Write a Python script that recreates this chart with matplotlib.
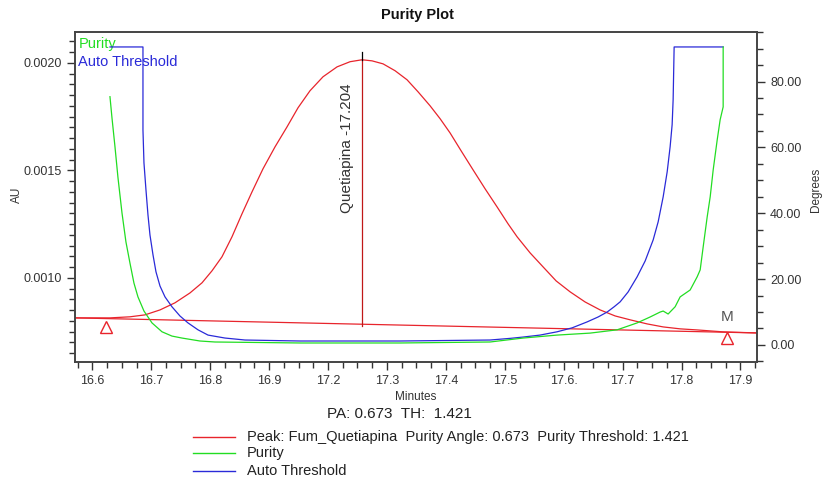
import matplotlib.pyplot as plt
from matplotlib.ticker import MultipleLocator

plt.rcParams['font.family'] = ['Liberation Sans', 'DejaVu Sans']

# x axis: nominal minute positions and the tick labels as printed in the picture
tick_pos = [16.6, 16.7, 16.8, 16.9, 17.0, 17.1, 17.2, 17.3, 17.4, 17.5, 17.6, 17.7]
tick_lbl = ["16.6", "16.7", "16.8", "16.9", "17.2", "17.3",
            "17.4", "17.5", "17.6.", "17.7", "17.8", "17.9"]

# chromatogram (AU)
peak_t = [16.5705, 16.6299, 16.6638, 16.6893, 16.7148, 16.7402, 16.7657, 16.7861,
          16.8031, 16.8200, 16.8370, 16.8540, 16.8710, 16.8896, 16.9100, 16.9304,
          16.9491, 16.9694, 16.9915, 17.0153, 17.0374, 17.0577, 17.0747, 17.0934,
          17.1138, 17.1341, 17.1528, 17.1732, 17.1902, 17.2071, 17.2258, 17.2462,
          17.2666, 17.2869, 17.3056, 17.3209, 17.3430, 17.3650, 17.3871, 17.4109,
          17.4363, 17.4618, 17.4873, 17.5127, 17.5416, 17.5688, 17.5976, 17.6265,
          17.6706, 17.7284]
peak_au = [0.000814, 0.000814, 0.000819, 0.000828, 0.000851, 0.000884, 0.000930, 0.000977,
           0.001033, 0.001098, 0.001191, 0.001298, 0.001400, 0.001507, 0.001609, 0.001702,
           0.001791, 0.001870, 0.001935, 0.001981, 0.002005, 0.002014, 0.002009, 0.001995,
           0.001963, 0.001921, 0.001865, 0.001800, 0.001740, 0.001674, 0.001591, 0.001502,
           0.001414, 0.001330, 0.001251, 0.001191, 0.001116, 0.001051, 0.000986, 0.000935,
           0.000888, 0.000851, 0.000823, 0.000805, 0.000786, 0.000772, 0.000763, 0.000758,
           0.000749, 0.000744]

base_t = [16.5705, 17.7284]
base_au = [0.000814, 0.000744]

apex_t = 17.0577
apex_au = 0.002014
apex_base = 0.000777
apex_top = 0.002051

start_mark = (16.6233, 0.000772)
end_mark = (17.6773, 0.000721)

# auto threshold (degrees)
thr_t = [16.6299, 16.6859, 16.6859, 16.6876, 16.6910, 16.6944, 16.6978, 16.7029, 16.7080,
         16.7148, 16.7233, 16.7351, 16.7487, 16.7623, 16.7793, 16.7963, 16.8251, 16.8591,
         16.9525, 17.1222, 17.2750, 17.3090, 17.3311, 17.3599, 17.3888, 17.4143, 17.4397,
         17.4584, 17.4737, 17.4856, 17.4958, 17.5093, 17.5246, 17.5382, 17.5518, 17.5603,
         17.5688, 17.5756, 17.5806, 17.5840, 17.5857, 17.5874, 17.6706]
thr_deg = [90.5, 90.5, 65.3, 55.3, 47.1, 39.5, 33.4, 27.4, 22.2,
           17.9, 14.6, 11.6, 8.8, 6.7, 4.6, 3.0, 2.1, 1.5,
           1.2, 1.2, 1.5, 2.0, 2.4, 3.0, 4.0, 5.2, 7.0,
           8.5, 10.0, 11.6, 13.1, 16.1, 20.7, 25.5, 31.9, 37.4,
           45.0, 52.6, 60.2, 66.9, 74.5, 90.5, 90.5]

# purity (degrees)
pur_t = [16.6299, 16.6333, 16.6384, 16.6435, 16.6503, 16.6570, 16.6638, 16.6706, 16.6774,
         16.6876, 16.7012, 16.7182, 16.7351, 16.7521, 16.7827, 16.8081, 16.9525, 17.1222,
         17.2750, 17.3311, 17.3888, 17.4448, 17.4907, 17.5246, 17.5467, 17.5637, 17.5688,
         17.5772, 17.5891, 17.5976, 17.6146, 17.6265, 17.6316, 17.6367, 17.6435, 17.6486,
         17.6537, 17.6605, 17.6655, 17.6706, 17.6706]
pur_deg = [75.4, 69.0, 60.2, 50.8, 40.1, 31.3, 24.9, 18.8, 14.6,
           10.3, 6.7, 4.0, 2.7, 2.1, 1.2, 0.9, 0.6, 0.6,
           0.9, 2.1, 3.0, 3.6, 4.6, 6.7, 8.5, 10.0, 10.3,
           9.4, 11.6, 14.6, 16.7, 20.7, 22.8, 29.8, 38.9, 45.0,
           53.2, 62.3, 68.4, 72.3, 90.5]

RED = "#e8242c"
GREEN = "#22dd22"
BLUE = "#2a2ad8"
TXT = "#333333"

fig = plt.figure(figsize=(8.22, 4.82), dpi=100)
ax = fig.add_axes([0.0912, 0.249, 0.8297, 0.685])
ax2 = ax.twinx()

ax.plot(peak_t, peak_au, color=RED, lw=0.9)
ax.plot(base_t, base_au, color=RED, lw=0.9)
ax.plot([apex_t, apex_t], [apex_base, apex_au], color="#c01818", lw=0.9)
ax.plot([apex_t, apex_t], [apex_au, apex_top], color="black", lw=0.9)
ax.plot(*start_mark, marker="^", ms=9, mfc="none", mec=RED, mew=1.0)
ax.plot(*end_mark, marker="^", ms=9, mfc="none", mec=RED, mew=1.0)
ax.text(end_mark[0], end_mark[1] + 0.000065, "M", color="#555555", fontsize=11,
        ha="center", va="bottom")
ax.text(apex_t - 0.026, 0.001605, "Quetiapina -17.204", rotation=90, color=TXT,
        fontsize=11, ha="center", va="center")

ax2.plot(thr_t, thr_deg, color=BLUE, lw=0.9)
ax2.plot(pur_t, pur_deg, color=GREEN, lw=0.9)

ax.set_xlim(16.5705, 17.728)
ax.set_ylim(0.000609, 0.002144)
ax2.set_ylim(-5.17, 95.1)

ax.set_xticks(tick_pos)
ax.set_xticklabels(tick_lbl)
ax.xaxis.set_minor_locator(MultipleLocator(0.025))
ax.yaxis.set_major_locator(MultipleLocator(0.0005))
ax.yaxis.set_minor_locator(MultipleLocator(0.00005))
ax.yaxis.set_major_formatter(plt.FuncFormatter(lambda v, p: f"{v:.4f}"))
ax2.yaxis.set_major_locator(MultipleLocator(20))
ax2.yaxis.set_minor_locator(MultipleLocator(5))
ax2.yaxis.set_major_formatter(plt.FuncFormatter(lambda v, p: f"{v:.2f}"))

for a in (ax, ax2):
    a.tick_params(which="both", labelsize=9, labelcolor=TXT, color="#333333", width=1.0)
    a.tick_params(which="major", length=6)
    a.tick_params(which="minor", length=4)
    for s in a.spines.values():
        s.set_color("#444444")
        s.set_linewidth(1.2)

ax.set_xlabel("Minutes", fontsize=8.5, color=TXT, labelpad=3)
fig.text(17 / 822, 1 - 195 / 482, "AU", rotation=90, fontsize=8.5, color=TXT,
         ha="center", va="center")
fig.text(816 / 822, 1 - 190 / 482, "Degrees", rotation=90, fontsize=8.5, color=TXT,
         ha="center", va="center")
fig.text(417 / 822, 1 - 15 / 482, "Purity Plot", fontsize=10.5, fontweight="bold",
         ha="center", va="center", color="#111111")

# labels inside the plot
ax.text(0.005, 0.985, "Purity", transform=ax.transAxes, color=GREEN, fontsize=10.5,
        va="top", ha="left")
ax.text(0.005, 0.93, "Auto Threshold", transform=ax.transAxes, color=BLUE, fontsize=10.5,
        va="top", ha="left")

# summary and legend below
fig.text(399 / 822, 1 - 414 / 482, "PA: 0.673  TH:  1.421", fontsize=11, color="#222222",
         ha="center", va="center")
leg_rows = [("Peak: Fum_Quetiapina  Purity Angle: 0.673  Purity Threshold: 1.421", RED, 437),
            ("Purity", GREEN, 453),
            ("Auto Threshold", BLUE, 471)]
for label, col, ypx in leg_rows:
    y = 1 - ypx / 482
    fig.add_artist(plt.Line2D([193 / 822, 235 / 822], [y, y], color=col, lw=1.0))
    fig.text(247 / 822, y, label, fontsize=10.5, color="#222222", ha="left", va="center")

fig.savefig("out.png", dpi=100)
